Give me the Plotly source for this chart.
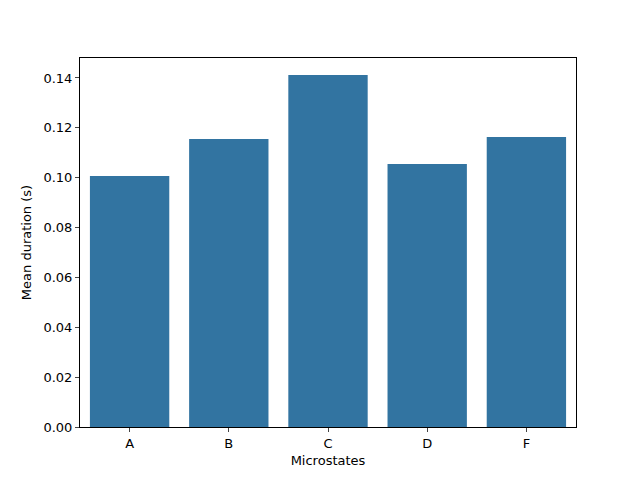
import plotly.graph_objects as go

categories = ["A", "B", "C", "D", "F"]
values = [0.1007, 0.1155, 0.1412, 0.1055, 0.1163]
ytick_vals = [0.0, 0.02, 0.04, 0.06, 0.08, 0.10, 0.12, 0.14]
ytick_text = ["0.00", "0.02", "0.04", "0.06", "0.08", "0.10", "0.12", "0.14"]

fig = go.Figure(go.Bar(x=categories, y=values, marker=dict(color="#3274a1", line=dict(width=0)), width=0.8))
fig.update_layout(
    width=640, height=480, plot_bgcolor="white", paper_bgcolor="white",
    margin=dict(l=72, r=72, t=50, b=61, autoexpand=False),
    font=dict(family="DejaVu Sans", size=13, color="black"),
    showlegend=False,
)
fig.update_xaxes(range=[-0.5, 4.5], showline=True, linecolor="black", mirror=True,
                 ticks="outside", ticklen=4, tickfont=dict(size=13),
                 title=dict(text="Microstates", standoff=6, font=dict(size=13)), showgrid=False)
fig.update_yaxes(range=[0, 0.148], showline=True, linecolor="black", mirror=True,
                 ticks="outside", ticklen=4, tickvals=ytick_vals, ticktext=ytick_text,
                 tickfont=dict(size=13),
                 title=dict(text="Mean duration (s)", standoff=8, font=dict(size=13)),
                 showgrid=False, zeroline=False)
fig.write_html("out.html")
